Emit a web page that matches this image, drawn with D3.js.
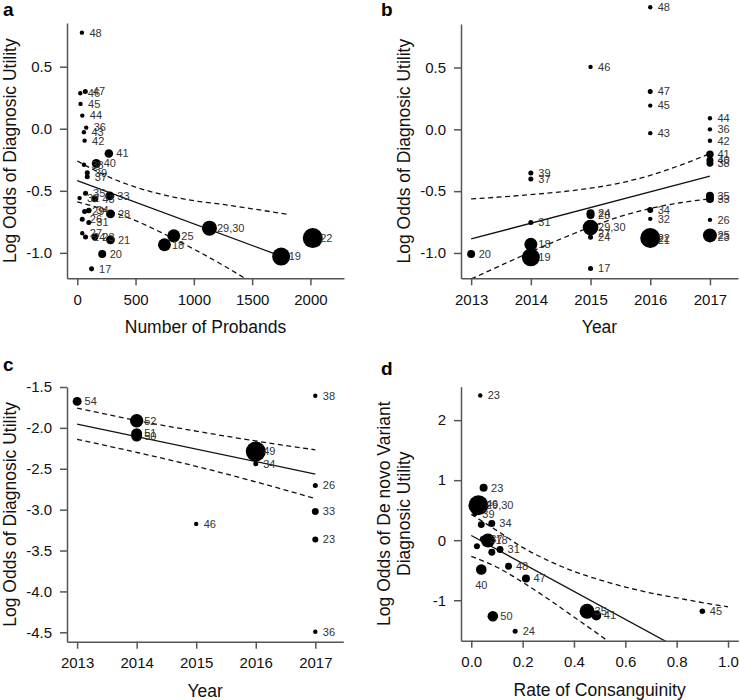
<!DOCTYPE html>
<html><head><meta charset="utf-8">
<script src="https://cdn.jsdelivr.net/npm/d3@7"></script>
<style>body{margin:0;background:#fff}svg{font-family:"Liberation Sans",Arial,sans-serif}</style>
</head><body><svg id="chart" width="740" height="700"></svg>
<script>
// ---------- Panel a : Number of probands ----------
const aIds = ["48","46","47","45","44","36","43","42","41","40","38","39","37","35","33","32","43","29","34","28","26","31","27","24","23","21","20","17","18","25","29,30","19","22"];
const aProbands = [40,26,69,28,43,77,57,63,271,163,57,86,86,71,279,20,151,63,99,285,43,99,43,71,151,285,214,123,748,828,1134,1749,2020];
const aLogOdds = [0.774,0.286,0.30,0.20,0.106,0.009,-0.028,-0.096,-0.20,-0.28,-0.29,-0.355,-0.387,-0.519,-0.541,-0.559,-0.565,-0.667,-0.659,-0.686,-0.729,-0.756,-0.842,-0.873,-0.873,-0.895,-1.01,-1.129,-0.935,-0.863,-0.801,-1.03,-0.881];
const aWeight = [4.8,4.8,6.3,4.8,4.8,4.8,4.8,4.8,18.5,20,4.8,6.3,6.3,6.3,20,4.8,12,6.3,7.8,20,6.3,6.3,4.8,6.3,12,20,16,6.3,42,42,56,81,100];
const aFit = [[0,-0.418],[1749,-1.027]];
const aUpper = [[0,-0.26],[250,-0.38],[500,-0.47],[750,-0.535],[1000,-0.58],[1250,-0.61],[1500,-0.645],[1806,-0.69]];
const aLower = [[0,-0.59],[250,-0.655],[500,-0.74],[750,-0.85],[1000,-0.97],[1250,-1.10],[1500,-1.24]];
const aXTicks = [0,500,1000,1500,2000];
const aYTicks = [0.5,0.0,-0.5,-1.0];

// ---------- Panel b : Year ----------
const bIds = ["20","39","37","31","18","19","46","24","28","29,30","27","24","17","48","47","45","43","34","32","21","22","44","36","42","41","40","38","35","33","26","25","23"];
const bYear = [2013,2014,2014,2014,2014,2014,2015,2015,2015,2015,2015,2015,2015,2016,2016,2016,2016,2016,2016,2016,2016,2017,2017,2017,2017,2017,2017,2017,2017,2017,2017,2017];
const bLogOdds = [-1.008,-0.354,-0.402,-0.754,-0.93,-1.035,0.505,-0.678,-0.692,-0.794,-0.839,-0.872,-1.126,0.988,0.305,0.192,-0.031,-0.652,-0.724,-0.893,-0.879,0.09,0.0,-0.092,-0.202,-0.25,-0.274,-0.537,-0.563,-0.732,-0.858,-0.87];
const bWeight = [16,6.3,6.3,6.3,42,81,4.8,16,16,61,6.3,6.3,6.3,4.8,6.3,4.8,4.8,9,4.8,12,100,4.8,4.8,4.8,13.7,12,12,16,16,4.8,49,9];
const bFit = [[2013,-0.887],[2017,-0.379]];
const bUpper = [[2013,-0.563],[2013.5,-0.547],[2014,-0.528],[2014.5,-0.506],[2015,-0.476],[2015.5,-0.434],[2016,-0.372],[2016.5,-0.291],[2017,-0.196]];
const bLower = [[2013,-1.211],[2013.5,-1.100],[2014,-0.991],[2014.5,-0.887],[2015,-0.790],[2015.5,-0.705],[2016,-0.640],[2016.5,-0.594],[2017,-0.562]];
const bXTicks = [2013,2014,2015,2016,2017];
const bYTicks = [0.5,0.0,-0.5,-1.0];

// ---------- Panel c : Year ----------
const cIds = ["54","52","51","50","46","49","34","38","26","33","23","36"];
const cYear = [2013,2014,2014,2014,2015,2016,2016,2017,2017,2017,2017,2017];
const cLogOdds = [-1.676,-1.913,-2.07,-2.10,-3.174,-2.289,-2.439,-1.607,-2.705,-3.023,-3.366,-4.493];
const cWeight = [20,45,30,30,4.8,100,6.3,4.8,6.3,12,9,4.8];
const cFit = [[2013,-1.953],[2017,-2.565]];
const cUpper = [[2013,-1.757],[2014,-1.91],[2015,-2.04],[2016,-2.16],[2017,-2.268]];
const cLower = [[2013,-2.14],[2014,-2.30],[2015,-2.47],[2016,-2.66],[2017,-2.865]];
const cXTicks = [2013,2014,2015,2016,2017];
const cYTicks = [-1.5,-2.0,-2.5,-3.0,-3.5,-4.0,-4.5];

// ---------- Panel d : Rate of consanguinity ----------
const dIds = ["23","23","29,30","46","39","","34","37","18","","","31","48","40","47","50","24","35","41","45"];
const dConsang = [0.035,0.048,0.028,0.028,0.014,0.039,0.08,0.045,0.065,0.022,0.08,0.112,0.145,0.039,0.213,0.084,0.171,0.451,0.487,0.90];
const dLogOdds = [2.41,0.873,0.583,0.60,0.44,0.26,0.278,0.02,-0.005,-0.10,-0.20,-0.155,-0.433,-0.488,-0.638,-1.267,-1.517,-1.183,-1.255,-1.183];
const dWeight = [4.8,16,100,9,6.3,12,12,9,49,9,12,12,12,28,16,28,6.3,56,25,7.8];
const dLabelBelow = ["40"];
const dFit = [[0,0.078],[0.9,-2.016]];
const dUpper = [[0,0.43],[0.1,0.16],[0.2,-0.12],[0.3,-0.34],[0.4,-0.52],[0.5,-0.66],[0.6,-0.78],[0.7,-0.88],[0.8,-0.96],[0.9,-1.04],[1.0,-1.11]];
const dLower = [[0,-0.27],[0.1,-0.45],[0.2,-0.70],[0.3,-0.98],[0.4,-1.28],[0.5,-1.58],[0.6,-1.90]];
const dXTicks = [0,0.2,0.4,0.6,0.8,1.0];
const dYTicks = [2,1,0,-1];

// ---------- drawing ----------
const svg = d3.select("#chart");
const rScale = d3.scaleSqrt().domain([0,100]).range([0,10]);
const fmt1 = d => d.toFixed(1);
const fmtInt = d => String(d);

const panels = [
  {letter:"a", lx:3, ly:16, left:67, right:344, top:23, bottom:278.3,
   xDom:[-88,2288], yDom:[-1.205,0.852], xTicks:aXTicks, yTicks:aYTicks, xFmt:fmtInt, yFmt:fmt1,
   xTitle:"Number of Probands", yTitle:["Log Odds of Diagnosic Utility"],
   ids:aIds, xs:aProbands, ys:aLogOdds, ws:aWeight, fit:aFit, up:aUpper, lo:aLower},
  {letter:"b", lx:381, ly:16, left:461, right:738, top:24, bottom:278.3,
   xDom:[2012.83,2017.47], yDom:[-1.205,0.852], xTicks:bXTicks, yTicks:bYTicks, xFmt:fmtInt, yFmt:fmt1,
   xTitle:"Year", yTitle:["Log Odds of Diagnosic Utility"],
   ids:bIds, xs:bYear, ys:bLogOdds, ws:bWeight, fit:bFit, up:bUpper, lo:bLower},
  {letter:"c", lx:3, ly:371, left:67, right:343.3, top:387, bottom:641.7,
   xDom:[2012.83,2017.47], yDom:[-4.615,-1.5], xTicks:cXTicks, yTicks:cYTicks, xFmt:fmtInt, yFmt:fmt1,
   xTitle:"Year", yTitle:["Log Odds of Diagnosic Utility"],
   ids:cIds, xs:cYear, ys:cLogOdds, ws:cWeight, fit:cFit, up:cUpper, lo:cLower},
  {letter:"d", lx:381, ly:375, left:461, right:738.3, top:386.7, bottom:640.7,
   xDom:[-0.04,1.04], yDom:[-1.674,2.557], xTicks:dXTicks, yTicks:dYTicks, xFmt:fmt1, yFmt:fmtInt,
   xTitle:"Rate of Consanguinity", yTitle:["Log Odds of De novo Variant","Diagnosic Utility"],
   ids:dIds, xs:dConsang, ys:dLogOdds, ws:dWeight, fit:dFit, up:dUpper, lo:dLower, below:dLabelBelow}
];

const defs = svg.append("defs");

panels.forEach(p => {
  const x = d3.scaleLinear().domain(p.xDom).range([p.left,p.right]);
  const y = d3.scaleLinear().domain(p.yDom).range([p.bottom,p.top]);
  const g = svg.append("g");
  defs.append("clipPath").attr("id","clip-"+p.letter).append("rect")
    .attr("x",p.left).attr("y",p.top).attr("width",p.right-p.left).attr("height",p.bottom-p.top);

  const ax = d3.axisBottom(x).tickValues(p.xTicks).tickFormat(p.xFmt).tickSizeInner(7).tickSizeOuter(0).tickPadding(9);
  const ay = d3.axisLeft(y).tickValues(p.yTicks).tickFormat(p.yFmt).tickSizeInner(7).tickSizeOuter(0).tickPadding(8);
  const gx = g.append("g").attr("transform",`translate(0,${p.bottom})`).call(ax);
  const gy = g.append("g").attr("transform",`translate(${p.left},0)`).call(ay);
  [gx,gy].forEach(a => {
    a.attr("font-family",null).attr("font-size",null);
    a.selectAll("text").attr("font-size",15).attr("fill","#111");
    a.selectAll("line,path").attr("stroke","#555").attr("stroke-width",1.5);
  });

  // titles
  g.append("text").attr("x",(p.left+p.right)/2).attr("y",p.bottom+55)
    .attr("text-anchor","middle").attr("font-size",17.5).attr("fill","#111").text(p.xTitle);
  const cy = (p.top+p.bottom)/2;
  const n = p.yTitle.length;
  p.yTitle.forEach((t,i) => {
    const bx = p.left - 51 - (n-1-i)*20;
    g.append("text").attr("transform",`translate(${bx},${cy}) rotate(-90)`)
      .attr("text-anchor","middle").attr("font-size",17.5).attr("fill","#111").text(t);
  });
  svg.append("text").attr("x",p.lx).attr("y",p.ly).attr("font-size",19).attr("font-weight","bold")
    .attr("fill","#000").text(p.letter);

  // regression and confidence lines
  const line = d3.line().x(d=>x(d[0])).y(d=>y(d[1])).curve(d3.curveMonotoneX);
  const lg = g.append("g").attr("clip-path",`url(#clip-${p.letter})`).attr("fill","none").attr("stroke","#111").attr("stroke-width",1.3);
  lg.append("path").attr("d",line(p.fit));
  lg.append("path").attr("d",line(p.up)).attr("stroke-dasharray","5,3.5");
  lg.append("path").attr("d",line(p.lo)).attr("stroke-dasharray","5,3.5");

  // points
  const pts = p.ids.map((id,i)=>({id, x:p.xs[i], y:p.ys[i], w:p.ws[i]}));
  g.append("g").selectAll("circle").data(pts).join("circle")
    .attr("cx",d=>x(d.x)).attr("cy",d=>y(d.y)).attr("r",d=>rScale(d.w)).attr("fill","#000");
  const below = p.below || [];
  g.append("g").selectAll("text").data(pts.filter(d=>d.id!=="")).join("text")
    .attr("x",d=> below.includes(d.id) ? x(d.x) : x(d.x)+7.5)
    .attr("y",d=> below.includes(d.id) ? y(d.y)+rScale(d.w)+10 : y(d.y))
    .attr("dy","0.35em")
    .attr("text-anchor",d=> below.includes(d.id) ? "middle" : "start")
    .attr("font-size",11).attr("fill","#333").text(d=>d.id);
});
</script>
</body></html>
